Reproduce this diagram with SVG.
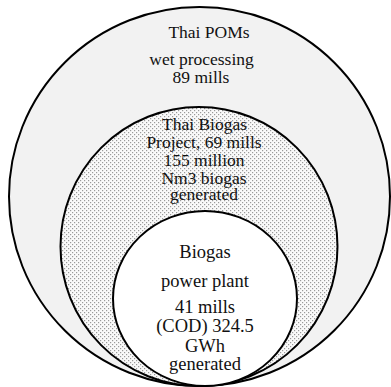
<svg xmlns="http://www.w3.org/2000/svg" width="391" height="387" viewBox="0 0 391 387">
<style>
.ring{stroke:#000;stroke-width:2}
text{font-family:"Liberation Serif","Times New Roman",serif;fill:#111;text-anchor:middle}
.t1{font-size:17.5px}
.t3{font-size:18.5px}
</style>
<defs>
<pattern id="dots" width="4" height="4" patternUnits="userSpaceOnUse">
<rect width="4" height="4" fill="#fafafa"/>
<rect x="0" y="0" width="1.2" height="1.2" fill="#9a9a9a"/>
<rect x="2" y="2" width="1.2" height="1.2" fill="#9a9a9a"/>
</pattern>
</defs>
<rect width="391" height="387" fill="#fff"/>
<g id="outer">
<ellipse class="ring" cx="199.5" cy="196.5" rx="190.5" ry="189.5" fill="#f2f2f2"/>
<text class="t1" x="209" y="38">Thai POMs</text>
<text class="t1" x="201.5" y="65">wet processing</text>
<text class="t1" x="201" y="83">89 mills</text>
</g>
<g id="middle">
<ellipse class="ring" cx="199" cy="246.5" rx="138.5" ry="139.5" fill="url(#dots)"/>
<text class="t1" x="204.5" y="130">Thai Biogas</text>
<text class="t1" x="204" y="148">Project, 69 mills</text>
<text class="t1" x="204" y="166">155 million</text>
<text class="t1" x="204" y="184">Nm3 biogas</text>
<text class="t1" x="204" y="200">generated</text>
</g>
<g id="inner">
<ellipse class="ring" cx="205" cy="298.5" rx="92" ry="87.5" fill="#fff"/>
<text class="t3" x="205" y="258">Biogas</text>
<text class="t3" x="205" y="287">power plant</text>
<text class="t3" x="205" y="313">41 mills</text>
<text class="t3" x="205" y="332">(COD) 324.5</text>
<text class="t3" x="205" y="352">GWh</text>
<text class="t3" x="205" y="370">generated</text>
</g>
<g id="connectors"></g>
</svg>
